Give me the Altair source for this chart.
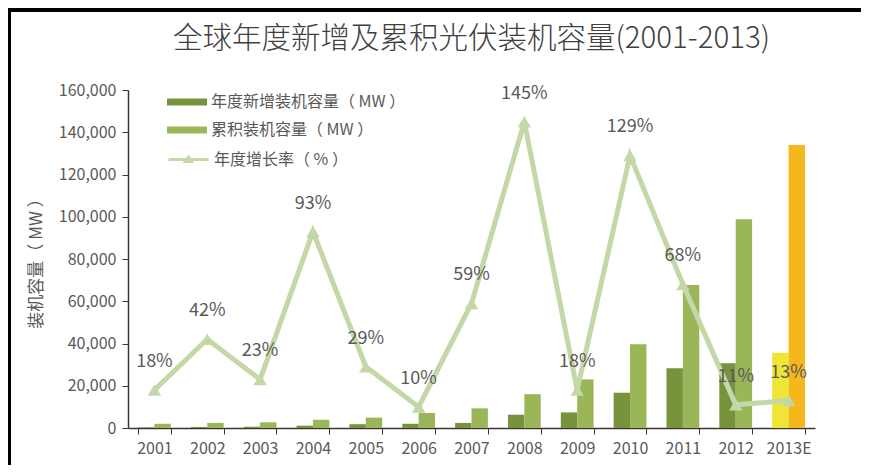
import altair as alt
import pandas as pd

years = ["2001", "2002", "2003", "2004", "2005", "2006", "2007", "2008", "2009", "2010", "2011", "2012", "2013E"]
new_mw = [300, 500, 600, 1100, 1800, 2000, 2400, 6300, 7400, 16700, 28300, 30600, 35600]
cum_mw = [2000, 2400, 2700, 3900, 4900, 7100, 9300, 16000, 23000, 39600, 67700, 98800, 134000]
growth = [0.18, 0.42, 0.23, 0.93, 0.29, 0.10, 0.59, 1.45, 0.18, 1.29, 0.68, 0.11, 0.13]
left_ticks = [0, 20000, 40000, 60000, 80000, 100000, 120000, 140000, 160000]
right_ticks = [0, 0.2, 0.4, 0.6, 0.8, 1.0, 1.2, 1.4, 1.6]

S_NEW = "年度新增装机容量（ MW ）"
S_CUM = "累积装机容量（ MW ）"
S_NEW_E = "年度新增装机容量（ MW ）预测"
S_CUM_E = "累积装机容量（ MW ）预测"
S_RATE = "年度增长率（ % ）"

FONT = "Noto Sans CJK SC"
GREY = "#595959"
AXIS = "#3f3434"
LINE = "#c4d7a6"

rows = []
for y, n, c in zip(years, new_mw, cum_mw):
    e = y.endswith("E")
    rows.append({"year": y, "series": "a", "key": S_NEW_E if e else S_NEW, "value": n})
    rows.append({"year": y, "series": "b", "key": S_CUM_E if e else S_CUM, "value": c})
bars_df = pd.DataFrame(rows)
rate_df = pd.DataFrame({"year": years, "rate": growth, "name": S_RATE,
                        "label": [f"{round(g*100)}%" for g in growth]})

xscale = alt.Scale(domain=years, paddingInner=0.38, paddingOuter=0.19)
xaxis = alt.Axis(title=None, tickBand="extent", labelAngle=0, labelFontSize=16,
                 labelColor=GREY, labelFont=FONT, domainColor=AXIS, tickColor=AXIS,
                 tickSize=6, labelPadding=6, domainWidth=1.5)

bars = alt.Chart(bars_df).mark_bar().encode(
    x=alt.X("year:N", scale=xscale, axis=xaxis),
    xOffset=alt.XOffset("series:N", scale=alt.Scale(domain=["a", "b"], paddingInner=0, paddingOuter=0)),
    y=alt.Y("value:Q", stack=None, scale=alt.Scale(domain=[0, 160000], nice=False),
            axis=alt.Axis(title="装机容量（ MW ）", format=",.0f", values=left_ticks,
                          grid=False, labelFontSize=16, labelColor=GREY, labelFont=FONT,
                          titleFont=FONT, titleFontSize=17, titleColor=GREY, titleFontWeight="normal",
                          titlePadding=13, domainColor=AXIS, tickColor=AXIS, tickSize=6, labelPadding=6,
                          domainWidth=1.5)),
    color=alt.Color("key:N",
                    scale=alt.Scale(domain=[S_NEW, S_CUM, S_NEW_E, S_CUM_E],
                                    range=["#77933c", "#9bb559", "#efe535", "#f4b81c"]),
                    legend=alt.Legend(title=None, values=[S_NEW, S_CUM], orient="none",
                                      legendX=39, legendY=-8, symbolType="M-1,-0.18H1V0.18H-1Z",
                                      symbolSize=1600, symbolStrokeWidth=0, symbolOpacity=1,
                                      labelFontSize=16, labelColor=GREY, labelFont=FONT, labelLimit=400,
                                      rowPadding=-13, padding=0, labelOffset=4)),
)

line = alt.Chart(rate_df).mark_line(strokeWidth=5).encode(
    x=alt.X("year:N", scale=xscale, axis=xaxis),
    y=alt.Y("rate:Q", scale=alt.Scale(domain=[0, 1.6], nice=False),
            axis=alt.Axis(title=None, format=".0%", values=right_ticks,
                          orient="right", grid=False, labelFontSize=16, labelColor=GREY, labelFont=FONT,
                          domainColor=AXIS, tickColor=AXIS, tickSize=6, labelPadding=6, domainWidth=1.5)),
    stroke=alt.Stroke("name:N", scale=alt.Scale(domain=[S_RATE], range=[LINE]),
                      legend=alt.Legend(title=None, orient="none", legendX=39, legendY=48,
                                        symbolType="M-1,0H1M-0.15,0.1L0,-0.12L0.15,0.1Z",
                                        symbolSize=1600, symbolStrokeWidth=3, symbolFillColor=LINE,
                                        labelFontSize=16, labelColor=GREY, labelFont=FONT, labelLimit=400,
                                        padding=0, labelOffset=4)),
)

pts = alt.Chart(rate_df).mark_point(shape="triangle-up", filled=True, size=180, color=LINE, opacity=1).encode(
    x=alt.X("year:N", scale=xscale, axis=xaxis),
    y=alt.Y("rate:Q", scale=alt.Scale(domain=[0, 1.6], nice=False), axis=None),
)

labels = alt.Chart(rate_df).mark_text(dy=-28, fontSize=18, color=GREY, font=FONT).encode(
    x=alt.X("year:N", scale=xscale, axis=xaxis),
    y=alt.Y("rate:Q", scale=alt.Scale(domain=[0, 1.6], nice=False), axis=None),
    text="label:N",
)

frame_top = alt.Chart(rate_df).mark_rule(color="black", strokeWidth=3).encode(
    x=alt.value(-122), x2=alt.value(740), y=alt.value(-80))
frame_left = alt.Chart(rate_df).mark_rule(color="black", strokeWidth=3).encode(
    x=alt.value(-119), y=alt.value(-82), y2=alt.value(380))

right = alt.layer(line, pts, labels)
chart = alt.layer(bars, right, frame_top, frame_left).resolve_scale(
    y="independent", color="independent", stroke="independent"
).properties(
    width=687, height=338,
    padding={"left": 120, "top": 82, "right": 46, "bottom": 37},
    autosize=alt.AutoSizeParams(type="none"),
    background="white",
    title=alt.Title("全球年度新增及累积光伏装机容量(2001-2013)", fontSize=29.5, font=FONT,
                    color="#404040", fontWeight=300, offset=-48),
).configure_view(stroke="transparent", strokeWidth=0)

chart.save("out.html", embed_options={"renderer": "svg", "actions": False})
